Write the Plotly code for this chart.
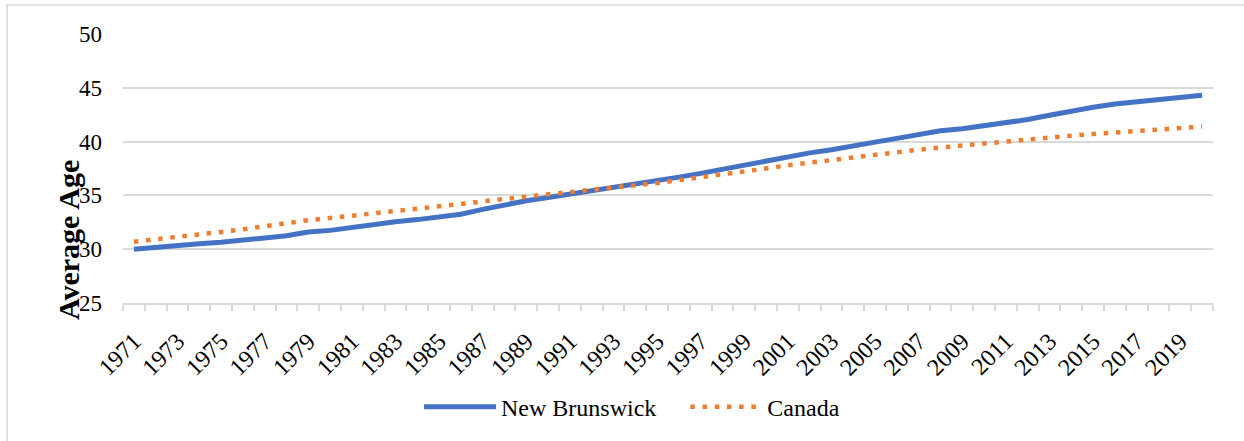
import plotly.graph_objects as go

years = list(range(1971, 2021))
new_brunswick = [30.0, 30.2, 30.3, 30.5, 30.65, 30.8, 31.05, 31.25, 31.6, 31.75,
                 32.05, 32.3, 32.55, 32.75, 32.95, 33.25, 33.7, 34.15, 34.5, 34.8,
                 35.1, 35.4, 35.7, 36.0, 36.35, 36.7, 37.05, 37.45, 37.85, 38.2,
                 38.55, 38.95, 39.25, 39.55, 39.95, 40.3, 40.7, 41.0, 41.2, 41.45,
                 41.75, 42.05, 42.45, 42.85, 43.2, 43.5, 43.7, 43.9, 44.15, 44.3]
canada = [30.7, 30.9, 31.1, 31.35, 31.6, 31.85, 32.15, 32.45, 32.7, 32.9,
          33.1, 33.3, 33.5, 33.7, 33.95, 34.2, 34.45, 34.7, 34.95, 35.1,
          35.3, 35.55, 35.8, 35.95, 36.15, 36.4, 36.65, 36.95, 37.2, 37.5,
          37.8, 38.05, 38.35, 38.6, 38.85, 39.05, 39.25, 39.45, 39.65, 39.85,
          40.05, 40.2, 40.4, 40.55, 40.7, 40.85, 41.0, 41.15, 41.3, 41.4]
tick_years = list(range(1971, 2021, 2))
tick_labels = [str(y) for y in tick_years]
y_ticks = [25, 30, 35, 40, 45, 50]

FONT = "Liberation Serif, Times New Roman, serif"
NBSP = "\u00a0"

fig = go.Figure()
fig.add_trace(go.Scatter(x=years, y=new_brunswick, mode="lines",
                         name="New Brunswick" + NBSP * 4,
                         line=dict(color="#4472C4", width=5)))
fig.add_trace(go.Scatter(x=years, y=canada, mode="lines", name="Canada",
                         line=dict(color="#ED7D31", width=4.5, dash="4.5px,7.7px")))

fig.update_layout(
    width=1244, height=441,
    margin=dict(l=123, r=31, t=34, b=138),
    paper_bgcolor="white", plot_bgcolor="white",
    font=dict(family=FONT, color="black", size=20),
    showlegend=True,
    legend=dict(orientation="h", x=0.467, y=-0.387, xanchor="center", yanchor="middle",
                font=dict(family=FONT, size=24, color="black"), itemwidth=72,
                bgcolor="rgba(0,0,0,0)"),
    xaxis=dict(range=[1970.5, 2020.5], tickmode="array", tickvals=tick_years,
               ticktext=tick_labels, tickangle=-45, ticks="", showgrid=False,
               zeroline=False, showline=True, linecolor="#d9d9d9", linewidth=1.5,
               tickfont=dict(family=FONT, size=24, color="black"),
               ticklabelstandoff=13,
               minor=dict(ticks="outside", tick0=1970.5, dtick=1, ticklen=6,
                          tickcolor="#d9d9d9", tickwidth=1.5, showgrid=False)),
    yaxis=dict(range=[25, 50], tickvals=y_ticks, ticks="", showgrid=True,
               gridcolor="#d9d9d9", gridwidth=1.5, zeroline=False, showline=False,
               tickfont=dict(family=FONT, size=23, color="black"),
               ticklabelstandoff=20),
    annotations=[dict(text="<b>Average Age</b>", xref="paper", yref="paper",
                      x=-0.0505, y=0.234, textangle=-90, showarrow=False,
                      xanchor="center", yanchor="middle",
                      font=dict(family=FONT, size=30, color="black"))],
    shapes=[dict(type="rect", xref="paper", yref="paper", x0=-0.1064, x1=1.04,
                 y0=-0.6, y1=1.108, line=dict(color="#d9d9d9", width=1.5),
                 fillcolor="rgba(0,0,0,0)", layer="below")],
)

fig.write_html("out.html", config={"displayModeBar": False},
               post_script="document.body.style.margin='0';")
